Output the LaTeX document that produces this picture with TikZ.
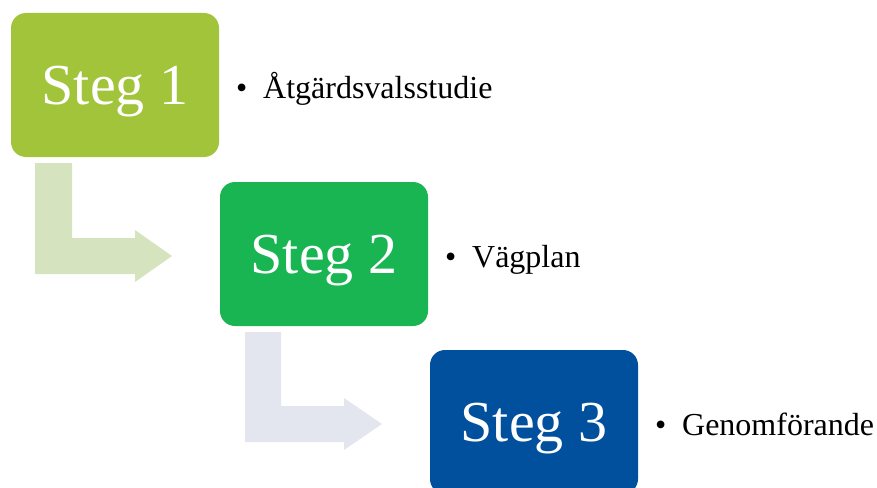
\documentclass[tikz,border=0pt]{standalone}
\usepackage{fontspec}
\setmainfont{Liberation Serif}
\definecolor{stepA}{HTML}{A2C43A}
\definecolor{stepB}{HTML}{1AB553}
\definecolor{stepC}{HTML}{00509E}
\definecolor{arrA}{HTML}{D5E4BF}
\definecolor{arrB}{HTML}{E3E6EE}
\tikzset{
  stepbox/.style={rounded corners=15pt, minimum width=208pt, minimum height=144pt,
    text=white, font=\fontsize{58}{60}\selectfont, text height=38pt, text depth=0pt,
    inner sep=0pt, outer sep=0pt},
  bullettext/.style={anchor=base west, inner sep=0pt, font=\fontsize{32}{34}\selectfont},
}
\begin{document}
\begin{tikzpicture}[x=1pt,y=-1pt]
\useasboundingbox (0,0) rectangle (877,487);
\begin{scope}
\clip (0,0) rectangle (877,487);
\node[stepbox, fill=stepA] (s1) at (115,85) {Steg 1};
\node[stepbox, fill=stepB] (s2) at (324,254) {Steg 2};
\node[stepbox, fill=stepC] (s3) at (534,422) {Steg 3};
\end{scope}
\node[bullettext] (t1) at ([xshift=17pt,yshift=-13pt]s1.east) {\makebox[27pt][l]{•}Åtgärdsvalsstudie};
\node[bullettext] (t2) at ([xshift=17pt,yshift=-13pt]s2.east) {\makebox[27pt][l]{•}Vägplan};
\node[bullettext] (t3) at ([xshift=17pt,yshift=-13pt]s3.east) {\makebox[27pt][l]{•}Genomförande};
\fill[arrA] (35,163) -- (72,163) -- (72,238) -- (135,238) -- (135,230) -- (172,256)
  -- (135,282) -- (135,274) -- (35,274) -- cycle;
\fill[arrB] (245,332) -- (281,332) -- (281,406) -- (344,406) -- (344,398) -- (382,424)
  -- (344,450) -- (344,442) -- (245,442) -- cycle;
\end{tikzpicture}
\end{document}
